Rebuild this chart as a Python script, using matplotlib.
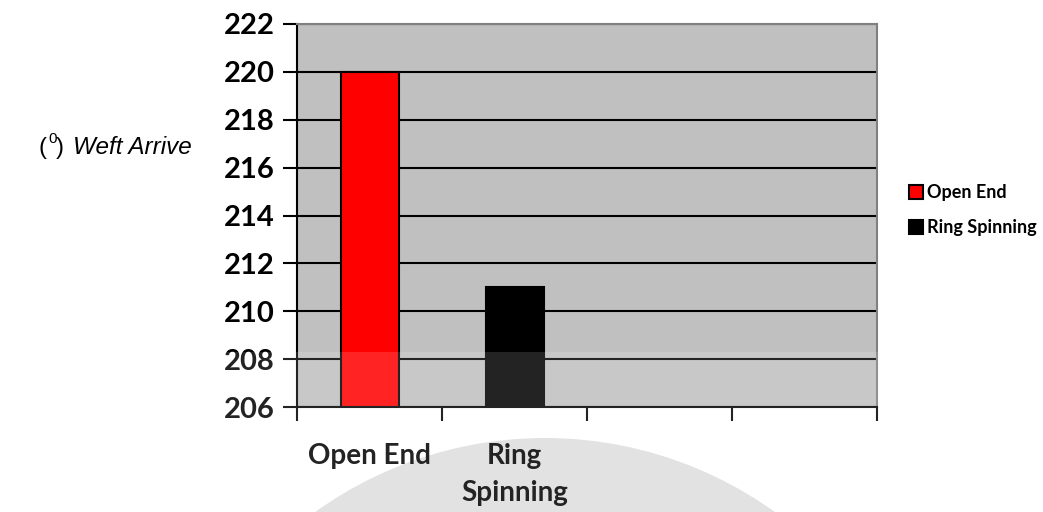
import matplotlib
matplotlib.use("Agg")
import matplotlib.pyplot as plt
from matplotlib.patches import Rectangle, Wedge
import numpy as np

categories = ["Open End", "Ring\nSpinning", "", ""]
series_names = ["Open End", "Ring Spinning"]
values = [220, 211]
colors = ["#FF0000", "#000000"]
yticks = [206, 208, 210, 212, 214, 216, 218, 220, 222]

W, H = 1043, 512
fig = plt.figure(figsize=(W / 100, H / 100), dpi=100)
fig.patch.set_facecolor("white")

# faint watermark ring (behind everything)
wm = fig.add_axes([0, 0, 1, 1], zorder=-5)
wm.set_xlim(0, W); wm.set_ylim(H, 0); wm.axis("off")
wm.add_patch(Wedge((545, 832), 394, 180, 360, width=110, facecolor="#dedede", edgecolor="none"))

ax = fig.add_axes([297 / W, 1 - 407 / H, (877 - 297) / W, (407 - 24) / H])
ax.set_facecolor("#C0C0C0")
ax.set_xlim(0, len(categories))
ax.set_ylim(yticks[0], yticks[-1])

for i, (v, c) in enumerate(zip(values, colors)):
    ax.bar(i + 0.5, v - yticks[0], bottom=yticks[0], width=0.4, color=c,
           edgecolor="black", linewidth=1.5, zorder=3, label=series_names[i])

ax.set_yticks(yticks)
ax.set_yticklabels([str(t) for t in yticks], fontfamily="Lato", fontweight="bold", fontsize=21)
ax.yaxis.grid(True, color="black", linewidth=1.5, zorder=1)
ax.set_axisbelow(True)
ax.tick_params(axis="y", direction="out", length=10, width=1.5, pad=6, color="black")

ax.set_xticks(np.arange(len(categories) + 1))
ax.set_xticklabels([])
ax.tick_params(axis="x", which="major", direction="out", length=10, width=1.5, color="black")
ax.set_xticks(np.arange(len(categories)) + 0.5, minor=True)
ax.set_xticklabels(categories, minor=True, fontfamily="Lato", fontweight="bold",
                   fontsize=20, linespacing=1.5, va="top")
ax.tick_params(axis="x", which="minor", length=0, pad=26)

for s in ["left", "bottom"]:
    ax.spines[s].set_color("black"); ax.spines[s].set_linewidth(1.5)
for s in ["top", "right"]:
    ax.spines[s].set_color("#808080"); ax.spines[s].set_linewidth(1.5)

# y label
fig.text(38 / W, 1 - 148 / H, "(", fontfamily="Liberation Sans", fontsize=17, va="center")
fig.text(48 / W, 1 - 139 / H, "0", fontfamily="Liberation Sans", fontsize=11, va="center")
fig.text(56 / W, 1 - 148 / H, ")", fontfamily="Liberation Sans", fontsize=17, va="center")
fig.text(73 / W, 1 - 148 / H, "Weft Arrive", fontfamily="Liberation Sans", fontstyle="italic",
         fontsize=17.5, va="center")

leg = fig.legend(loc="upper left", bbox_to_anchor=(893 / W, 1 - 168 / H), frameon=False,
                 prop={"family": "Lato", "weight": "bold", "size": 13},
                 handlelength=0.75, handleheight=0.75, handletextpad=0.25, labelspacing=1.0)

# watermark white veil over lower part
wm2 = fig.add_axes([0, 0, 1, 1], zorder=10)
wm2.set_xlim(0, W); wm2.set_ylim(H, 0); wm2.axis("off")
wm2.add_patch(Rectangle((0, 352), W, H - 352, facecolor="white", alpha=0.14, edgecolor="none"))

fig.savefig("out.png", dpi=100)
